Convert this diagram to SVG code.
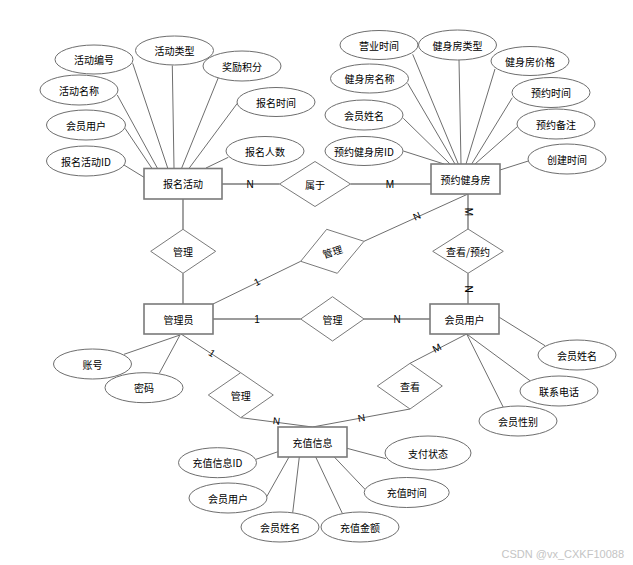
<svg xmlns="http://www.w3.org/2000/svg" width="633" height="565" viewBox="0 0 633 565">
<style>
text{font-family:"Noto Sans CJK SC","Liberation Sans",sans-serif;font-size:10px;fill:#000;text-anchor:middle;dominant-baseline:central}
.ent{fill:#fff;stroke:#7a7a7a;stroke-width:1.6}
.rel{fill:#fff;stroke:#7a7a7a;stroke-width:1}
.att{fill:#fff;stroke:#6e6e6e;stroke-width:1}
.al{stroke:#6e6e6e;stroke-width:1;fill:none}
.rl{stroke:#7a7a7a;stroke-width:1.4;fill:none}
.lb{font-family:"Liberation Sans",sans-serif;font-size:10px}
.wm{font-family:"Liberation Sans",sans-serif;font-size:11px;fill:#c4c4c4;text-anchor:end}
</style>
<rect width="633" height="565" fill="#fff"/>
<g id="connectors">
<!-- attribute lines: 报名活动 -->
<line class="al" x1="132.7" y1="63.3" x2="167.7" y2="168"/>
<line class="al" x1="172.3" y1="65.5" x2="174" y2="168"/>
<line class="al" x1="218.3" y1="77.7" x2="181.7" y2="168"/>
<line class="al" x1="117.3" y1="95" x2="157.3" y2="168"/>
<line class="al" x1="237.3" y1="103.3" x2="189.3" y2="168"/>
<line class="al" x1="125" y1="128.3" x2="151.7" y2="168"/>
<line class="al" x1="228.3" y1="157.3" x2="206" y2="168"/>
<line class="al" x1="124" y1="165" x2="144" y2="177.3"/>
<!-- attribute lines: 预约健身房 -->
<line class="al" x1="412.7" y1="54.3" x2="458.3" y2="164"/>
<line class="al" x1="459" y1="60" x2="461" y2="164"/>
<line class="al" x1="495" y1="69" x2="466" y2="164"/>
<line class="al" x1="407.7" y1="83.3" x2="455" y2="164"/>
<line class="al" x1="512.3" y1="97.7" x2="471.7" y2="164"/>
<line class="al" x1="403.3" y1="118.3" x2="450" y2="164"/>
<line class="al" x1="517.3" y1="126.7" x2="475" y2="164"/>
<line class="al" x1="403.3" y1="151" x2="444" y2="164"/>
<line class="al" x1="528.3" y1="161" x2="500" y2="170"/>
<!-- attribute lines: 管理员 -->
<line class="al" x1="124" y1="354.3" x2="180" y2="335"/>
<line class="al" x1="159.3" y1="373.3" x2="180" y2="335"/>
<!-- attribute lines: 会员用户 -->
<line class="al" x1="545" y1="345.7" x2="499.3" y2="317.3"/>
<line class="al" x1="530" y1="380.7" x2="466.7" y2="334"/>
<line class="al" x1="503.3" y1="407.3" x2="466.7" y2="334"/>
<!-- attribute lines: 充值信息 -->
<line class="al" x1="256" y1="459.3" x2="278" y2="451.7"/>
<line class="al" x1="266.7" y1="496.7" x2="289" y2="457"/>
<line class="al" x1="292.7" y1="512.7" x2="299.3" y2="457"/>
<line class="al" x1="342.3" y1="513.3" x2="315.7" y2="457"/>
<line class="al" x1="365" y1="489.3" x2="334.3" y2="457"/>
<line class="al" x1="386" y1="458.7" x2="347" y2="448.3"/>
<!-- relationship lines -->
<line class="rl" x1="222" y1="184" x2="279.5" y2="184"/>
<line class="rl" x1="350.5" y1="184" x2="431" y2="184"/>
<line class="rl" x1="183" y1="199" x2="183" y2="229.3"/>
<line class="rl" x1="183" y1="273.3" x2="183" y2="304"/>
<line class="al" x1="213" y1="304" x2="300.7" y2="261.3"/>
<line class="al" x1="364" y1="241.3" x2="468" y2="194"/>
<line class="rl" x1="468" y1="194" x2="468" y2="229"/>
<line class="rl" x1="468" y1="273.3" x2="468" y2="304"/>
<line class="rl" x1="213" y1="319" x2="300.7" y2="319"/>
<line class="rl" x1="364" y1="319" x2="430" y2="319"/>
<line class="al" x1="181" y1="334" x2="240.7" y2="372.7"/>
<line class="al" x1="241" y1="417.7" x2="312.5" y2="427"/>
<line class="al" x1="466.7" y1="334" x2="410" y2="363.3"/>
<line class="al" x1="410" y1="409" x2="312.5" y2="427"/>
<!-- cardinality labels -->
<text class="lb" x="250" y="184">N</text>
<text class="lb" x="390" y="184">M</text>
<text class="lb" x="257" y="282" transform="rotate(-26 257 282)">1</text>
<text class="lb" x="417" y="216" transform="rotate(-24 417 216)">N</text>
<text class="lb" x="468" y="212" transform="rotate(90 468 212)">M</text>
<text class="lb" x="468" y="289" transform="rotate(90 468 289)">N</text>
<text class="lb" x="257" y="319">1</text>
<text class="lb" x="397" y="319">N</text>
<text class="lb" x="212" y="353" transform="rotate(33 212 353)">1</text>
<text class="lb" x="276.5" y="421" transform="rotate(7 276.5 421)">N</text>
<text class="lb" x="361.5" y="418" transform="rotate(-10 361.5 418)">N</text>
<text class="lb" x="437" y="348" transform="rotate(-27 437 348)">M</text>
</g>
<g id="e-baoming"><rect class="ent" x="144" y="168.5" width="78" height="30.5"/><text x="183" y="183.5">报名活动</text></g>
<g id="e-yuyue"><rect class="ent" x="431" y="164" width="69" height="30"/><text x="465.5" y="179">预约健身房</text></g>
<g id="e-admin"><rect class="ent" x="144" y="304" width="69" height="30"/><text x="178.5" y="319">管理员</text></g>
<g id="e-member"><rect class="ent" x="430" y="304" width="69" height="30"/><text x="464.5" y="319">会员用户</text></g>
<g id="e-recharge"><rect class="ent" x="278" y="427" width="69" height="30"/><text x="312.5" y="442">充值信息</text></g>
<g id="r-shuyu"><polygon class="rel" points="279.5,184 315,161.5 350.5,184 315,206.5"/><text x="315" y="184">属于</text></g>
<g id="r-guanli1"><polygon class="rel" points="150.7,251.3 183,229.3 215.7,251.3 183,273.3"/><text x="183" y="251.3">管理</text></g>
<g id="r-guanli2"><polygon class="rel" points="326.7,229.3 364,241.3 337.3,273.3 300.7,261.3"/><text x="332.3" y="251.3" transform="rotate(-17.5 332.3 251.3)">管理</text></g>
<g id="r-chakan-yuyue"><polygon class="rel" points="432.7,251.3 468,229 503.3,251.3 468,273.3"/><text x="468" y="251.3">查看/预约</text></g>
<g id="r-guanli3"><polygon class="rel" points="300.7,319 332.5,296.7 364,319 332.5,341"/><text x="332.5" y="319">管理</text></g>
<g id="r-guanli4"><polygon class="rel" points="208.3,395 240.7,372.7 273.3,395 240.7,417.7"/><text x="240.7" y="395">管理</text></g>
<g id="r-chakan"><polygon class="rel" points="377.3,386 410,363.3 442.3,386 410,409"/><text x="410" y="386">查看</text></g>
<g id="a-huodongbianhao"><ellipse class="att" cx="94" cy="59.5" rx="39" ry="14.5"/><text x="94" y="59.5">活动编号</text></g>
<g id="a-huodongleixing"><ellipse class="att" cx="174.5" cy="50.5" rx="39" ry="14.5"/><text x="174.5" y="50.5">活动类型</text></g>
<g id="a-jiangli"><ellipse class="att" cx="242" cy="66" rx="39" ry="15"/><text x="242" y="66">奖励积分</text></g>
<g id="a-huodongmingcheng"><ellipse class="att" cx="79" cy="90" rx="39" ry="15"/><text x="79" y="90">活动名称</text></g>
<g id="a-baomingshijian"><ellipse class="att" cx="276" cy="102" rx="39" ry="14.5"/><text x="276" y="102">报名时间</text></g>
<g id="a-huiyuan1"><ellipse class="att" cx="86" cy="125" rx="39.5" ry="15"/><text x="86" y="125">会员用户</text></g>
<g id="a-baomingrenshu"><ellipse class="att" cx="265" cy="151" rx="39" ry="14.5"/><text x="265" y="151">报名人数</text></g>
<g id="a-baomingid"><ellipse class="att" cx="86" cy="161" rx="39.5" ry="15"/><text x="86" y="161">报名活动ID</text></g>
<g id="a-yingye"><ellipse class="att" cx="379" cy="45" rx="39" ry="14.5"/><text x="379" y="45">营业时间</text></g>
<g id="a-jsfleixing"><ellipse class="att" cx="457.5" cy="45" rx="39" ry="15"/><text x="457.5" y="45">健身房类型</text></g>
<g id="a-jsfjiage"><ellipse class="att" cx="530" cy="61" rx="39" ry="14.5"/><text x="530" y="61">健身房价格</text></g>
<g id="a-jsfmingcheng"><ellipse class="att" cx="369.5" cy="78.5" rx="39" ry="14.5"/><text x="369.5" y="78.5">健身房名称</text></g>
<g id="a-yuyueshijian"><ellipse class="att" cx="551" cy="92.5" rx="39" ry="15"/><text x="551" y="92.5">预约时间</text></g>
<g id="a-huiyuanxingming1"><ellipse class="att" cx="364" cy="115" rx="39" ry="15"/><text x="364" y="115">会员姓名</text></g>
<g id="a-yuyuebeizhu"><ellipse class="att" cx="556" cy="124" rx="39" ry="15"/><text x="556" y="124">预约备注</text></g>
<g id="a-yuyueid"><ellipse class="att" cx="364" cy="151" rx="39" ry="14.5"/><text x="364" y="151">预约健身房ID</text></g>
<g id="a-chuangjian"><ellipse class="att" cx="567" cy="159" rx="39" ry="15"/><text x="567" y="159">创建时间</text></g>
<g id="a-zhanghao"><ellipse class="att" cx="92.5" cy="364" rx="39" ry="15"/><text x="92.5" y="364">账号</text></g>
<g id="a-mima"><ellipse class="att" cx="144" cy="387.7" rx="39" ry="15"/><text x="144" y="387.7">密码</text></g>
<g id="a-huiyuanxingming2"><ellipse class="att" cx="577" cy="355" rx="39" ry="15"/><text x="577" y="355">会员姓名</text></g>
<g id="a-lianxi"><ellipse class="att" cx="559" cy="391" rx="39" ry="15"/><text x="559" y="391">联系电话</text></g>
<g id="a-xingbie"><ellipse class="att" cx="518" cy="421" rx="39" ry="15"/><text x="518" y="421">会员性别</text></g>
<g id="a-chongzhiid"><ellipse class="att" cx="217.5" cy="462.7" rx="39" ry="15"/><text x="217.5" y="462.7">充值信息ID</text></g>
<g id="a-huiyuan3"><ellipse class="att" cx="228" cy="498" rx="39" ry="15"/><text x="228" y="498">会员用户</text></g>
<g id="a-huiyuanxingming3"><ellipse class="att" cx="280" cy="527" rx="39" ry="15"/><text x="280" y="527">会员姓名</text></g>
<g id="a-jine"><ellipse class="att" cx="360" cy="527" rx="39" ry="15"/><text x="360" y="527">充值金额</text></g>
<g id="a-chongzhishijian"><ellipse class="att" cx="406.7" cy="492.5" rx="42.5" ry="15"/><text x="406.7" y="492.5">充值时间</text></g>
<g id="a-zhifu"><ellipse class="att" cx="428" cy="453" rx="43" ry="17"/><text x="428" y="453">支付状态</text></g>
<text class="wm" x="624" y="554">CSDN @vx_CXKF10088</text>
</svg>
